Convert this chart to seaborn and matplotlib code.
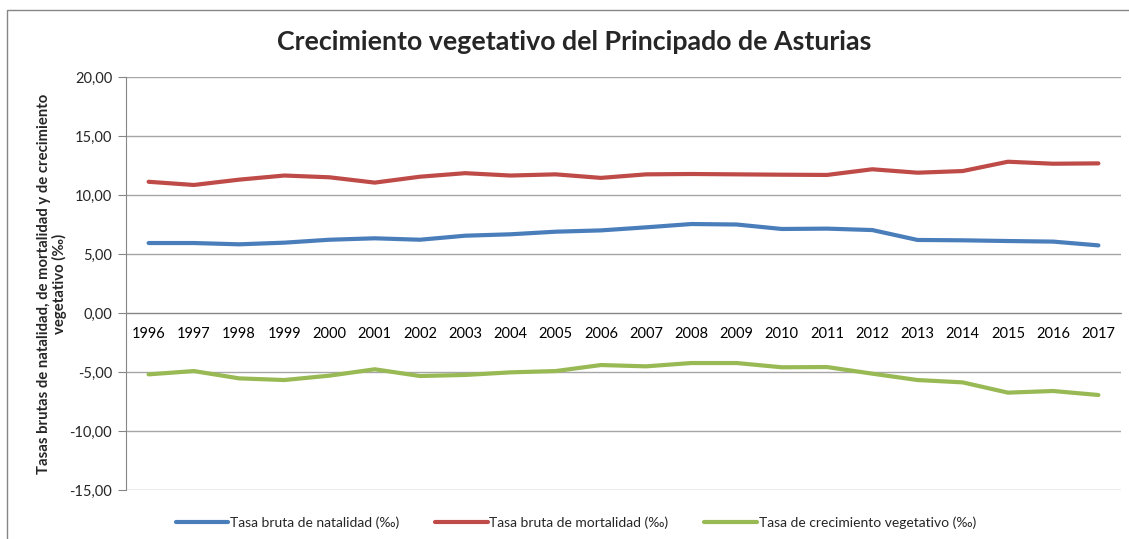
import pandas as pd
import seaborn as sns
import matplotlib.pyplot as plt
from matplotlib.patches import Rectangle
from matplotlib.ticker import FuncFormatter, MultipleLocator

years = [str(y) for y in range(1996, 2018)]
natalidad = [5.93, 5.93, 5.82, 5.96, 6.21, 6.33, 6.21, 6.55, 6.67, 6.89, 7.00,
             7.26, 7.54, 7.50, 7.12, 7.15, 7.03, 6.19, 6.16, 6.10, 6.05, 5.73]
mortalidad = [11.12, 10.85, 11.30, 11.65, 11.50, 11.05, 11.55, 11.85, 11.65, 11.75, 11.45,
              11.75, 11.78, 11.75, 11.72, 11.70, 12.18, 11.89, 12.03, 12.82, 12.65, 12.68]
crecimiento = [-5.20, -4.92, -5.54, -5.68, -5.31, -4.77, -5.34, -5.25, -5.03, -4.92, -4.41,
               -4.52, -4.24, -4.24, -4.60, -4.58, -5.14, -5.68, -5.88, -6.75, -6.61, -6.95]

labels = ["Tasa bruta de natalidad (‰)", "Tasa bruta de mortalidad (‰)",
          "Tasa de crecimiento vegetativo (‰)"]
colors = ["#4A7EBB", "#BE4B48", "#98B954"]

df = pd.DataFrame({"Año": years, labels[0]: natalidad, labels[1]: mortalidad, labels[2]: crecimiento})
long = df.melt(id_vars="Año", var_name="serie", value_name="valor")

sns.set_style("white")
plt.rcParams['font.family'] = ['Lato', 'DejaVu Sans']

fig = plt.figure(figsize=(11.29, 5.39), dpi=100)
ax = fig.add_axes([126/1129, 1 - 490/539, (1121 - 126)/1129, (490 - 77)/539])

sns.lineplot(data=long, x="Año", y="valor", hue="serie", palette=colors,
             linewidth=3, ax=ax, legend=True, sort=False)

ax.set_xlim(-0.5, len(years) - 0.5)
ax.set_ylim(-15, 20)
ax.yaxis.set_major_locator(MultipleLocator(5))
ax.yaxis.set_major_formatter(FuncFormatter(lambda v, p: f"{v:.2f}".replace(".", ",")))
ax.grid(axis="y", color="#A6A6A6", linewidth=1)
ax.set_axisbelow(True)

for s in ["top", "right"]:
    ax.spines[s].set_visible(False)
ax.spines["left"].set_color("#868686")
ax.spines["bottom"].set_color("#868686")
ax.spines["bottom"].set_position(("data", 0))

ax.set_xticks(range(len(years)))
ax.set_xticklabels(years)
ax.set_xticks([i + 0.5 for i in range(-1, len(years))], minor=True)
ax.tick_params(axis="x", which="major", length=0, labelsize=10.5, pad=10, colors="black")
ax.tick_params(axis="x", which="minor", length=6, direction="inout", color="#868686")
ax.tick_params(axis="y", length=6, direction="out", color="#868686", labelsize=10.5, pad=4, left=True)

ax.set_xlabel("")
ax.set_ylabel("Tasas brutas de natalidad, de mortalidad y de crecimiento\nvegetativo (‰)",
              fontsize=10.7, fontweight="bold", labelpad=2, linespacing=1.05)

fig.text(574/1129, 1 - 42/539, "Crecimiento vegetativo del Principado de Asturias",
         ha="center", va="center", fontsize=19.3, fontweight="bold")

handles, lbls = ax.get_legend_handles_labels()
ax.legend(handles, lbls, loc="center", bbox_to_anchor=(0.452, -0.08), ncol=3, frameon=False,
          fontsize=10, handlelength=3.8, handletextpad=0.1, columnspacing=2.6)

fig.patches.append(Rectangle((7/1129, -0.1), 1.2, 1 - 10/539 + 0.1, transform=fig.transFigure,
                             fill=False, edgecolor="#868686", linewidth=1))

fig.savefig("out.png", dpi=100)
